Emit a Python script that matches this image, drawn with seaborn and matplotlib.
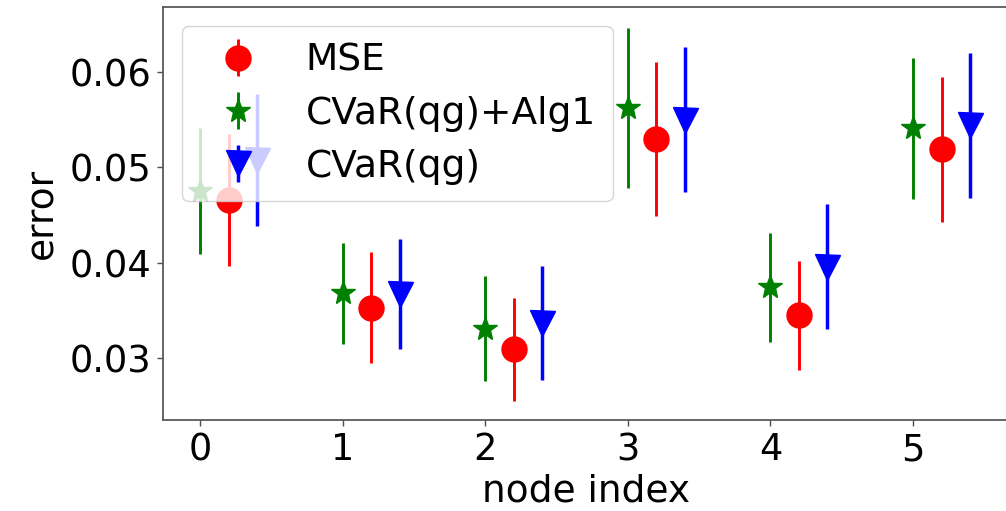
import matplotlib
matplotlib.use("Agg")
import matplotlib.pyplot as plt
import seaborn as sns
import numpy as np

sns.set_style("ticks")
plt.rcParams['font.family'] = ['DejaVu Sans']
plt.rcParams['text.color'] = 'black'
plt.rcParams['axes.labelcolor'] = 'black'
plt.rcParams['xtick.color'] = 'black'
plt.rcParams['ytick.color'] = 'black'

nodes = [0, 1, 2, 3, 4, 5]
mse_mean = [0.0466, 0.0353, 0.0309, 0.0530, 0.0345, 0.0519]
mse_err = [0.0069, 0.0058, 0.0054, 0.0081, 0.0057, 0.0076]
alg1_mean = [0.0475, 0.0368, 0.0331, 0.0562, 0.0374, 0.0541]
alg1_err = [0.0066, 0.0053, 0.0055, 0.0084, 0.0057, 0.0074]
cvar_mean = [0.0508, 0.0367, 0.0337, 0.0550, 0.0396, 0.0544]
cvar_err = [0.0069, 0.0058, 0.0060, 0.0076, 0.0066, 0.0076]

fig = plt.figure(figsize=(10.06, 5.11), dpi=100)
ax = fig.add_axes([0.162, 0.178, 0.842, 0.808])

x = np.array(nodes, dtype=float)
ms = 18
ax.errorbar(x + 0.2, mse_mean, yerr=mse_err, fmt='o', color='red', ms=ms,
            elinewidth=2.1, label='MSE')
ax.errorbar(x, alg1_mean, yerr=alg1_err, fmt='*', color='green', ms=ms,
            elinewidth=2.1, label='CVaR(qg)+Alg1')
ax.errorbar(x + 0.4, cvar_mean, yerr=cvar_err, fmt='v', color='blue', ms=ms,
            elinewidth=2.5, label='CVaR(qg)')

ax.set_xticks(nodes)
ax.set_yticks([0.03, 0.04, 0.05, 0.06])
ax.set_xlim(-0.26, 5.68)
ax.set_ylim(0.0235, 0.0668)
ax.tick_params(labelsize=26.5, length=4, width=1, color='0.3', pad=4)
ax.set_xlabel('node index', fontsize=27, labelpad=3.5)
ax.set_ylabel('error', fontsize=27, labelpad=7)
for s in ax.spines.values():
    s.set_color('0.35')
    s.set_linewidth(1.3)

ax.legend(loc='upper left', fontsize=27, frameon=True, borderaxespad=0.5,
          handletextpad=0.75, handlelength=2.1, labelspacing=0.45, borderpad=0.45)

fig.savefig('out.png', dpi=100)
